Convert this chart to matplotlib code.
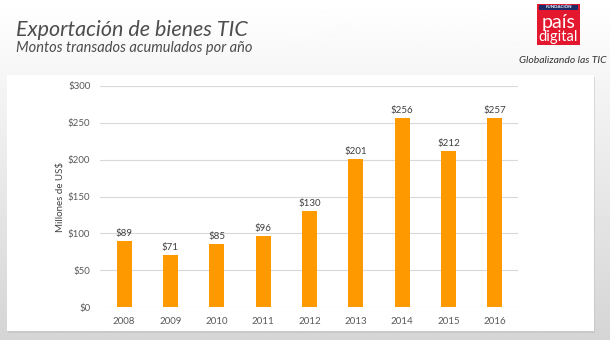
import numpy as np
import matplotlib
matplotlib.use("Agg")
import matplotlib.pyplot as plt
from matplotlib.patches import Rectangle

# Exportación de bienes TIC, millones de US$
years = ["2008", "2009", "2010", "2011", "2012", "2013", "2014", "2015", "2016"]
montos = [89, 71, 85, 96, 130, 201, 256, 212, 257]
yticks = [0, 50, 100, 150, 200, 250, 300]

BAR = "#ff9900"
TXT = "#595959"

plt.rcParams["font.family"] = ["Lato", "DejaVu Sans"]

fig = plt.figure(figsize=(6.1, 3.4), dpi=100)

# slide background: vertical gradient white -> light gray
bg = fig.add_axes([0, 0, 1, 1], zorder=-10)
grad = np.linspace(0.835, 1.0, 256).reshape(-1, 1)
bg.imshow(grad, cmap="gray", vmin=0, vmax=1, aspect="auto",
          extent=[0, 1, 0, 1], origin="lower")
bg.set_xlim(0, 1)
bg.set_ylim(0, 1)
bg.axis("off")

# white chart panel with a soft shadow
bg.add_patch(Rectangle((0.0135, 0.020), 0.962, 0.753, color="#bdbdbd",
                       alpha=0.5, lw=0))
bg.add_patch(Rectangle((0.0115, 0.026), 0.962, 0.753, color="white", lw=0))

# header
fig.text(0.027, 0.912, "Exportación de bienes TIC", fontsize=15.5,
         style="italic", color="#4d4d4d", va="center")
fig.text(0.027, 0.858, "Montos transados acumulados por año", fontsize=10.5,
         style="italic", color="#4d4d4d", va="center")

# logo
logo = fig.add_axes([537 / 610, 1 - 45 / 340, 43 / 610, 41 / 340])
logo.set_xlim(0, 1)
logo.set_ylim(0, 1)
logo.axis("off")
logo.add_patch(Rectangle((0, 0), 1, 1, color="#e3172d", lw=0))
logo.add_patch(Rectangle((0.05, 0.86), 0.9, 0.12, color="#1e2a66", lw=0))
logo.text(0.5, 0.92, "FUNDACIÓN", fontsize=3.2, color="white",
          weight="bold", ha="center", va="center")
logo.text(0.5, 0.56, "país", fontsize=14, color="white", ha="center",
          va="center")
logo.text(0.5, 0.19, "digital", fontsize=10.5, color="white", ha="center",
          va="center")
fig.text(0.994, 0.823, "Globalizando las TIC", fontsize=7.5, style="italic",
         color="#333333", ha="right", va="center")

# bar chart
ax = fig.add_axes([100 / 610, 1 - 307 / 340, 418 / 610, 221 / 340])
x = np.arange(len(years))
ax.bar(x, montos, width=0.32, color=BAR, zorder=3)
for xi, v in zip(x, montos):
    ax.text(xi, v + 4, f"${v}", ha="center", va="bottom", fontsize=7,
            color="#404040")

ax.set_xlim(-0.52, len(years) - 0.5)
ax.set_ylim(0, 300)
ax.set_yticks(yticks)
ax.set_yticklabels([f"${t}" for t in yticks])
ax.set_xticks(x)
ax.set_xticklabels(years)
ax.tick_params(length=0, labelsize=7, colors=TXT, pad=7)
ax.tick_params(axis="x", pad=7)
ax.grid(axis="y", color="#d9d9d9", lw=0.8, zorder=0)
for s in ax.spines.values():
    s.set_visible(False)
ax.set_ylabel("Millones de US$", fontsize=7, color="#404040")
ax.yaxis.set_label_coords(-0.083, 0.5)
ax.patch.set_alpha(0)

fig.savefig("out.png", dpi=100)
